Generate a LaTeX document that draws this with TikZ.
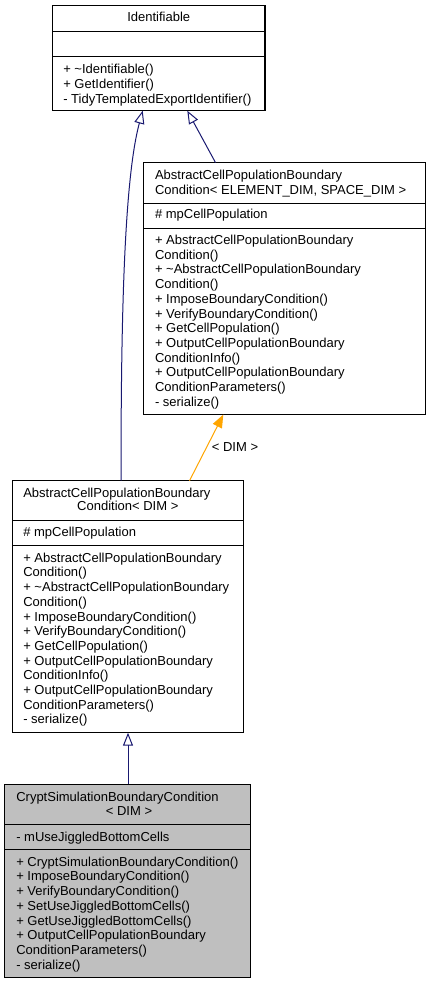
\documentclass[tikz,border=0pt]{standalone}
\usepackage{fontspec}
\setmainfont{Liberation Sans}
\usetikzlibrary{arrows.meta}
\definecolor{navyline}{HTML}{191970}
\definecolor{orangeline}{HTML}{FFA500}
\definecolor{grayfill}{HTML}{BFBFBF}
\tikzset{
  umlbox/.style={draw=black, line width=1.1pt, inner sep=0pt, outer sep=0pt, anchor=north west},
  sepline/.style={draw=black, line width=1.1pt},
  txt/.style={font=\fontsize{13}{14.7}\selectfont, inner sep=0pt, outer sep=0pt, anchor=north west, align=left},
  ctxt/.style={font=\fontsize{13}{14.7}\selectfont, inner sep=0pt, outer sep=0pt, anchor=base},
  inherit/.style={draw=navyline, line width=1pt, -{Triangle[open, length=13pt, width=10pt]}},
  tmpl/.style={draw=orangeline, line width=1pt, -{Triangle[length=13pt, width=10pt, fill=orangeline]}}
}
\newcommand{\fs}{\rule{0pt}{10pt}}
\begin{document}
\begin{tikzpicture}[x=1pt, y=-1pt]
\useasboundingbox (0,0) rectangle (432,984);

% Identifiable
\node[umlbox, minimum width=212.7pt, minimum height=105pt] (id) at (52.3,5.7) {};
\draw[sepline] (52.3,31.7) -- (265,31.7);
\draw[sepline] (52.3,56.7) -- (265,56.7);
\node[ctxt] (idt) at (158.7,21.8) {Identifiable};
\node[txt] (idm) at (63.3,63.8) {\fs+ \textasciitilde Identifiable()\\+ GetIdentifier()\\- TidyTemplatedExportIdentifier()};

% AbstractCellPopulationBoundaryCondition< ELEMENT_DIM, SPACE_DIM >
\node[umlbox, minimum width=282pt, minimum height=252pt] (es) at (143.6,162.6) {};
\draw[sepline] (143.6,203.3) -- (425.6,203.3);
\draw[sepline] (143.6,228.7) -- (425.6,228.7);
\node[txt] (est) at (155,169.5) {\fs AbstractCellPopulationBoundary\\Condition< ELEMENT\_DIM, SPACE\_DIM >};
\node[txt] (esa) at (155,208.8) {\fs\# mpCellPopulation};
\node[txt] (esm) at (155,234.5) {\fs+ AbstractCellPopulationBoundary\\Condition()\\+ \textasciitilde AbstractCellPopulationBoundary\\Condition()\\+ ImposeBoundaryCondition()\\+ VerifyBoundaryCondition()\\+ GetCellPopulation()\\+ OutputCellPopulationBoundary\\ConditionInfo()\\+ OutputCellPopulationBoundary\\ConditionParameters()\\- serialize()};

% AbstractCellPopulationBoundaryCondition< DIM >
\node[umlbox, minimum width=231pt, minimum height=252pt] (dim) at (12.3,480.7) {};
\draw[sepline] (12.3,520.7) -- (243.3,520.7);
\draw[sepline] (12.3,545.7) -- (243.3,545.7);
\node[txt] (dimt1) at (23.3,487.2) {\fs AbstractCellPopulationBoundary};
\node[ctxt] (dimt2) at (127.8,510.5) {Condition< DIM >};
\node[txt] (dima) at (23.3,526.8) {\fs\# mpCellPopulation};
\node[txt] (dimm) at (23.3,552.2) {\fs+ AbstractCellPopulationBoundary\\Condition()\\+ \textasciitilde AbstractCellPopulationBoundary\\Condition()\\+ ImposeBoundaryCondition()\\+ VerifyBoundaryCondition()\\+ GetCellPopulation()\\+ OutputCellPopulationBoundary\\ConditionInfo()\\+ OutputCellPopulationBoundary\\ConditionParameters()\\- serialize()};

% CryptSimulationBoundaryCondition< DIM >
\node[umlbox, fill=grayfill, minimum width=246pt, minimum height=193.4pt] (cs) at (4.7,784.3) {};
\draw[sepline] (4.7,824.3) -- (250.7,824.3);
\draw[sepline] (4.7,849.3) -- (250.7,849.3);
\node[txt] (cst1) at (16.3,791.2) {\fs CryptSimulationBoundaryCondition};
\node[ctxt] (cst2) at (129,815.5) {< DIM >};
\node[txt] (csa) at (16.3,831.2) {\fs- mUseJiggledBottomCells};
\node[txt] (csm) at (16.3,856.2) {\fs+ CryptSimulationBoundaryCondition()\\+ ImposeBoundaryCondition()\\+ VerifyBoundaryCondition()\\+ SetUseJiggledBottomCells()\\+ GetUseJiggledBottomCells()\\+ OutputCellPopulationBoundary\\ConditionParameters()\\- serialize()};

% connector end points
\coordinate (idbotL) at (142.7,110.7);
\coordinate (idbotR) at (187.3,110.7);
\coordinate (estop) at (215.5,162.6);
\coordinate (esbot) at (223.3,414.6);
\coordinate (dimtopL) at (121,480.7);
\coordinate (dimtopR) at (189.5,480.7);
\coordinate (dimbot) at (128,732.7);
\coordinate (cstop) at (128,784.3);

% connectors
\draw[inherit] (estop) -- (idbotR);
\draw[inherit] (dimtopL) .. controls (121,320) and (124,180) .. (idbotL);
\draw[tmpl] (dimtopR) -- (esbot);
\node[ctxt, anchor=center] (lbl) at (235,447) {< DIM >};
\draw[inherit] (cstop) -- (dimbot);
\end{tikzpicture}
\end{document}
